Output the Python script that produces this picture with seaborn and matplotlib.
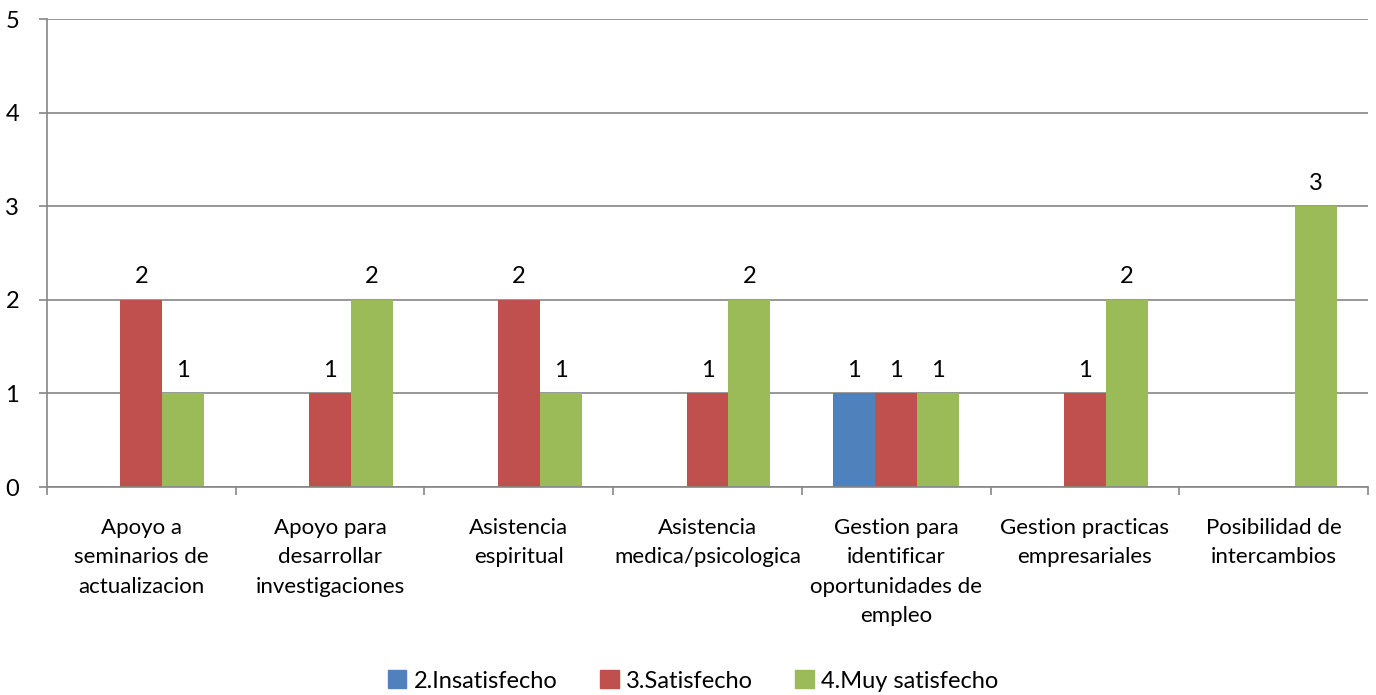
import matplotlib
matplotlib.use("Agg")
import matplotlib.pyplot as plt
import seaborn as sns
import pandas as pd
import numpy as np

categories = [
    "Apoyo a\nseminarios de\nactualizacion",
    "Apoyo para\ndesarrollar\ninvestigaciones",
    "Asistencia\nespiritual",
    "Asistencia\nmedica/psicologica",
    "Gestion para\nidentificar\noportunidades de\nempleo",
    "Gestion practicas\nempresariales",
    "Posibilidad de\nintercambios",
]
series = ["2.Insatisfecho", "3.Satisfecho", "4.Muy satisfecho"]
insatisfecho = [0, 0, 0, 0, 1, 0, 0]
satisfecho = [2, 1, 2, 1, 1, 1, 0]
muy_satisfecho = [1, 2, 1, 2, 1, 2, 3]
colors = ["#4F81BD", "#C0504D", "#9BBB59"]
yticks = [0, 1, 2, 3, 4, 5]

rows = []
for name, vals in zip(series, [insatisfecho, satisfecho, muy_satisfecho]):
    for c, v in zip(categories, vals):
        rows.append({"cat": c, "serie": name, "val": v})
df = pd.DataFrame(rows)

sns.set_theme(style="white")
plt.rcParams["font.family"] = ["Lato", "DejaVu Sans"]
plt.rcParams["text.color"] = "black"
plt.rcParams["xtick.labelcolor"] = "black"
plt.rcParams["ytick.labelcolor"] = "black"

fig = plt.figure(figsize=(13.76, 6.95), dpi=100)
ax = fig.add_axes([47/1376, 1-487/695, (1368-47)/1376, (487-19)/695])

sns.barplot(data=df, x="cat", y="val", hue="serie", order=categories,
            hue_order=series, palette=colors, width=0.667, ax=ax,
            saturation=1, legend=True, edgecolor="none", linewidth=0)

for cont in ax.containers:
    labels = [f"{int(b.get_height())}" if b.get_height() > 0 else "" for b in cont]
    ax.bar_label(cont, labels=labels, padding=9, fontsize=17, color="black")

ax.set_xlim(-0.5, len(categories) - 0.5)
ax.set_ylim(0, 5)
ax.set_yticks(yticks)
ax.set_yticklabels([str(t) for t in yticks], fontsize=17, color="black")
ax.yaxis.grid(True, color="#868686", linewidth=1.2)
ax.set_axisbelow(True)
ax.set_xlabel("")
ax.set_ylabel("")

ax.set_xticks(range(len(categories)))
ax.set_xticklabels(categories, fontsize=16, linespacing=1.6, va="top", color="black")
ax.set_xticks(np.arange(-0.5, len(categories) + 0.5, 1), minor=True)
ax.tick_params(axis="x", which="major", length=0, pad=22)
ax.tick_params(axis="x", which="minor", length=6, color="#868686", width=1.2, direction="out", bottom=True)
ax.tick_params(axis="y", which="major", length=6, color="#868686", width=1.2, direction="out", left=True, pad=14)

for s in ["top", "right"]:
    ax.spines[s].set_visible(False)
for s in ["left", "bottom"]:
    ax.spines[s].set_color("#868686")
    ax.spines[s].set_linewidth(1.2)

ax.get_legend().remove()
handles = [plt.Rectangle((0, 0), 1, 1, color=c) for c in colors]
fig.legend(handles, series, loc="center", bbox_to_anchor=(693/1376, 1-681/695),
           ncol=3, frameon=False, fontsize=17, handlelength=0.8, handleheight=0.8,
           handletextpad=0.3, columnspacing=1.8)

fig.savefig("out.png", dpi=100)
